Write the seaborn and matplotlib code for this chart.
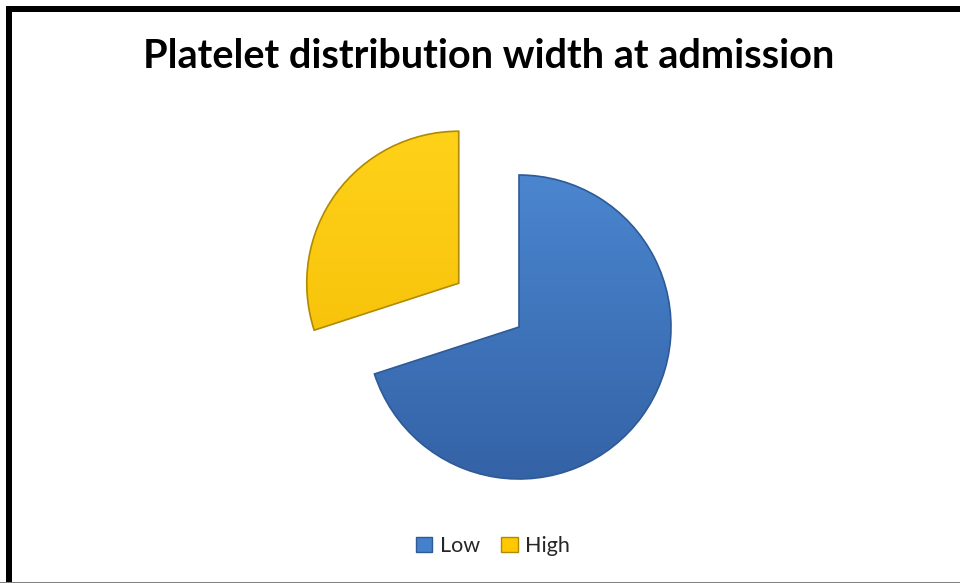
import numpy as np
import matplotlib
matplotlib.use("Agg")
import matplotlib.pyplot as plt
import seaborn as sns
from matplotlib.patches import Patch, Rectangle
from matplotlib.colors import LinearSegmentedColormap

categories = ["Low", "High"]
values = [70, 30]
explode_frac = [0, 0.49]
title = "Platelet distribution width at admission"

sns.set_theme(style="white")
plt.rcParams["font.family"] = ["Lato", "DejaVu Sans"]

palette = sns.color_palette(["#4480CB", "#FFC800"])
grad_top = ["#4E8CD6", "#FFD21A"]
grad_bot = ["#3462A6", "#F2BA00"]
edge_cols = ["#2E5A96", "#B08A00"]

W, H = 960, 583
R = 152
fig = plt.figure(figsize=(W / 100, H / 100), dpi=100)
fig.patch.set_facecolor("white")
ax = fig.add_axes([0, 0, 1, 1])

wedges, _ = ax.pie(values, explode=[e * R for e in explode_frac], startangle=90,
                   counterclock=False, colors=palette, center=(519, H - 327), radius=R,
                   wedgeprops=dict(linewidth=1.2))
ax.set_xlim(0, W)
ax.set_ylim(0, H)
ax.set_aspect("auto")
ax.axis("off")

for i, w in enumerate(wedges):
    w.set_edgecolor(edge_cols[i])
    cmap = LinearSegmentedColormap.from_list("g%d" % i, [grad_bot[i], grad_top[i]])
    grad = np.linspace(0, 1, 256).reshape(-1, 1)
    im = ax.imshow(grad, cmap=cmap, origin="lower", aspect="auto",
                   extent=(0, W, H - 480, H - 125), zorder=w.get_zorder() + 0.1)
    im.set_clip_path(w)
    w.set_facecolor("none")
    w.set_zorder(w.get_zorder() + 0.2)

ax.set_xlim(0, W)
ax.set_ylim(0, H)

fig.text(489 / W, 1 - 57 / H, title, ha="center", va="center",
         fontsize=28.5, fontweight="bold", color="black")

handles = [Patch(facecolor=palette[i], edgecolor=edge_cols[i], label=categories[i])
           for i in range(len(categories))]
leg = fig.legend(handles=handles, loc="center", bbox_to_anchor=(493 / W, 1 - 546 / H),
                 ncol=2, frameon=False, fontsize=15.5, handlelength=0.75, handleheight=0.75,
                 handletextpad=0.35, columnspacing=1.0)

# outer frame: thick top and left edges, thin grey bottom edge
fig.patches.append(Rectangle((6 / W, 1 - 12 / H), 1, 6 / H, transform=fig.transFigure,
                             facecolor="black", edgecolor="none", zorder=10))
fig.patches.append(Rectangle((6 / W, 1 / H), 6 / W, 1 - 7 / H, transform=fig.transFigure,
                             facecolor="black", edgecolor="none", zorder=10))
fig.patches.append(Rectangle((0, 0), 1, 1.5 / H, transform=fig.transFigure,
                             facecolor="#808080", edgecolor="none", zorder=11))

fig.savefig("out.png", dpi=100, facecolor="white")
